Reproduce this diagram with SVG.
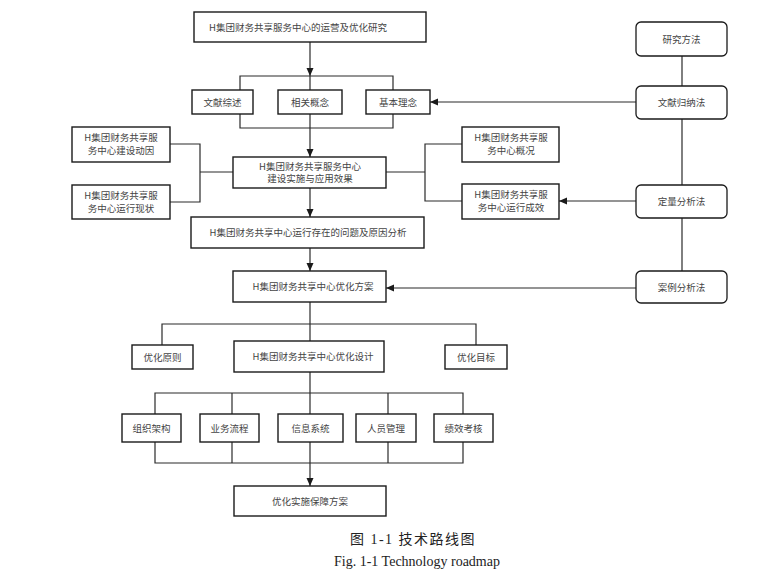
<svg xmlns="http://www.w3.org/2000/svg" width="780" height="579" viewBox="0 0 780 579">
<style>
.b{fill:#fff;stroke:#1a1a1a;stroke-width:1.4}
.r{fill:#fff;stroke:#1a1a1a;stroke-width:1.3}
.t{font-family:"Noto Sans CJK SC","Liberation Sans",sans-serif;font-size:9.5px;fill:#444;text-anchor:middle}
.l{fill:none;stroke:#2a2a2a;stroke-width:1.2}
.cap{font-family:"Liberation Serif","Noto Sans CJK SC",serif;fill:#222;text-anchor:middle}
</style>
<defs>
<marker id="ah" viewBox="0 0 8 8" refX="8" refY="4" markerWidth="8" markerHeight="8" markerUnits="userSpaceOnUse" orient="auto">
<path d="M0,0.5 L8,4 L0,7.5 Z" fill="#1a1a1a"/>
</marker>
</defs>
<g id="connectors">
<line class="l" x1="682" y1="56" x2="682" y2="271"/>
<line class="l" x1="310" y1="42" x2="310" y2="76" marker-end="url(#ah)"/>
<polyline class="l" points="240,90 240,76 393,76 393,90"/>
<line class="l" x1="310" y1="76" x2="310" y2="90"/>
<polyline class="l" points="240,114 240,128 393,128 393,114"/>
<line class="l" x1="310" y1="114" x2="310" y2="157" marker-end="url(#ah)"/>
<polyline class="l" points="170,144 200,144 200,202 170,202"/>
<line class="l" x1="200" y1="172" x2="233" y2="172"/>
<polyline class="l" points="462,144 425,144 425,201 462,201"/>
<line class="l" x1="386" y1="172" x2="425" y2="172"/>
<line class="l" x1="310" y1="188" x2="310" y2="217" marker-end="url(#ah)"/>
<line class="l" x1="310" y1="248" x2="310" y2="271" marker-end="url(#ah)"/>
<line class="l" x1="636" y1="102" x2="430" y2="102" marker-end="url(#ah)"/>
<line class="l" x1="636" y1="201" x2="559" y2="201" marker-end="url(#ah)"/>
<line class="l" x1="636" y1="288" x2="386" y2="288" marker-end="url(#ah)"/>
<line class="l" x1="310" y1="302" x2="310" y2="341"/>
<polyline class="l" points="162,345 162,324 476,324 476,345"/>
<line class="l" x1="310" y1="372" x2="310" y2="414"/>
<polyline class="l" points="155,414 155,393 463,393 463,414"/>
<line class="l" x1="232" y1="393" x2="232" y2="414"/>
<line class="l" x1="388" y1="393" x2="388" y2="414"/>
<polyline class="l" points="155,442 155,463 463,463 463,442"/>
<line class="l" x1="232" y1="442" x2="232" y2="463"/>
<line class="l" x1="388" y1="442" x2="388" y2="463"/>
<line class="l" x1="310" y1="442" x2="310" y2="486" marker-end="url(#ah)"/>
</g>
<g id="n-title"><rect class="b" x="194" y="12" width="232" height="30"/><text class="t" x="298" y="30.5">H集团财务共享服务中心的运营及优化研究</text></g>
<g id="n-wxzs"><rect class="b" x="192" y="90" width="61" height="24"/><text class="t" x="222.5" y="105.5">文献综述</text></g>
<g id="n-xggn"><rect class="b" x="278" y="90" width="64" height="24"/><text class="t" x="310" y="105.5">相关概念</text></g>
<g id="n-jbln"><rect class="b" x="366" y="90" width="64" height="24"/><text class="t" x="398" y="105.5">基本理念</text></g>
<g id="n-dongyin"><rect class="b" x="72" y="127" width="98" height="35"/><text class="t" x="121" y="141">H集团财务共享服</text><text class="t" x="121" y="154">务中心建设动因</text></g>
<g id="n-xianzhuang"><rect class="b" x="72" y="185" width="98" height="34"/><text class="t" x="121" y="199">H集团财务共享服</text><text class="t" x="121" y="212">务中心运行现状</text></g>
<g id="n-jianshe"><rect class="b" x="233" y="157" width="153" height="31"/><text class="t" x="310" y="169.5">H集团财务共享服务中心</text><text class="t" x="310" y="182">建设实施与应用效果</text></g>
<g id="n-gaikuang"><rect class="b" x="462" y="127" width="97" height="35"/><text class="t" x="511" y="141">H集团财务共享服</text><text class="t" x="511" y="154">务中心概况</text></g>
<g id="n-chengxiao"><rect class="b" x="462" y="184" width="97" height="35"/><text class="t" x="511" y="198">H集团财务共享服</text><text class="t" x="511" y="211">务中心运行成效</text></g>
<g id="n-wenti"><rect class="b" x="191" y="217" width="233" height="31"/><text class="t" x="308" y="235.5">H集团财务共享中心运行存在的问题及原因分析</text></g>
<g id="n-fangan"><rect class="b" x="233" y="271" width="153" height="31"/><text class="t" x="313" y="289.5">H集团财务共享中心优化方案</text></g>
<g id="n-yjff"><rect class="r" x="636" y="22" width="91" height="34" rx="5"/><text class="t" x="681.5" y="42.5">研究方法</text></g>
<g id="n-wxgn"><rect class="r" x="636" y="86" width="91" height="33" rx="5"/><text class="t" x="681.5" y="106">文献归纳法</text></g>
<g id="n-dlfx"><rect class="r" x="636" y="185" width="91" height="33" rx="5"/><text class="t" x="681.5" y="205">定量分析法</text></g>
<g id="n-alfx"><rect class="r" x="636" y="271" width="91" height="32" rx="5"/><text class="t" x="681.5" y="290.5">案例分析法</text></g>
<g id="n-yhyz"><rect class="b" x="132" y="345" width="61" height="24"/><text class="t" x="162.5" y="360.5">优化原则</text></g>
<g id="n-yhsj"><rect class="b" x="234" y="341" width="150" height="31"/><text class="t" x="313" y="359.5">H集团财务共享中心优化设计</text></g>
<g id="n-yhmb"><rect class="b" x="445" y="345" width="62" height="24"/><text class="t" x="476" y="360.5">优化目标</text></g>
<g id="n-zzjg"><rect class="b" x="122" y="414" width="59" height="28"/><text class="t" x="151.5" y="431.5">组织架构</text></g>
<g id="n-ywlc"><rect class="b" x="200" y="414" width="59" height="28"/><text class="t" x="229.5" y="431.5">业务流程</text></g>
<g id="n-xxxt"><rect class="b" x="278" y="414" width="65" height="28"/><text class="t" x="310.5" y="431.5">信息系统</text></g>
<g id="n-rygl"><rect class="b" x="356" y="414" width="60" height="28"/><text class="t" x="386" y="431.5">人员管理</text></g>
<g id="n-jxkh"><rect class="b" x="434" y="414" width="59" height="28"/><text class="t" x="463.5" y="431.5">绩效考核</text></g>
<g id="n-baozhang"><rect class="b" x="234" y="486" width="152" height="30"/><text class="t" x="310" y="504.5">优化实施保障方案</text></g>
<text class="cap" x="413" y="544" font-size="14" letter-spacing="1.5">图 1-1  技术路线图</text>
<text class="cap" x="417" y="566" font-size="14">Fig. 1-1 Technology roadmap</text>
</svg>
